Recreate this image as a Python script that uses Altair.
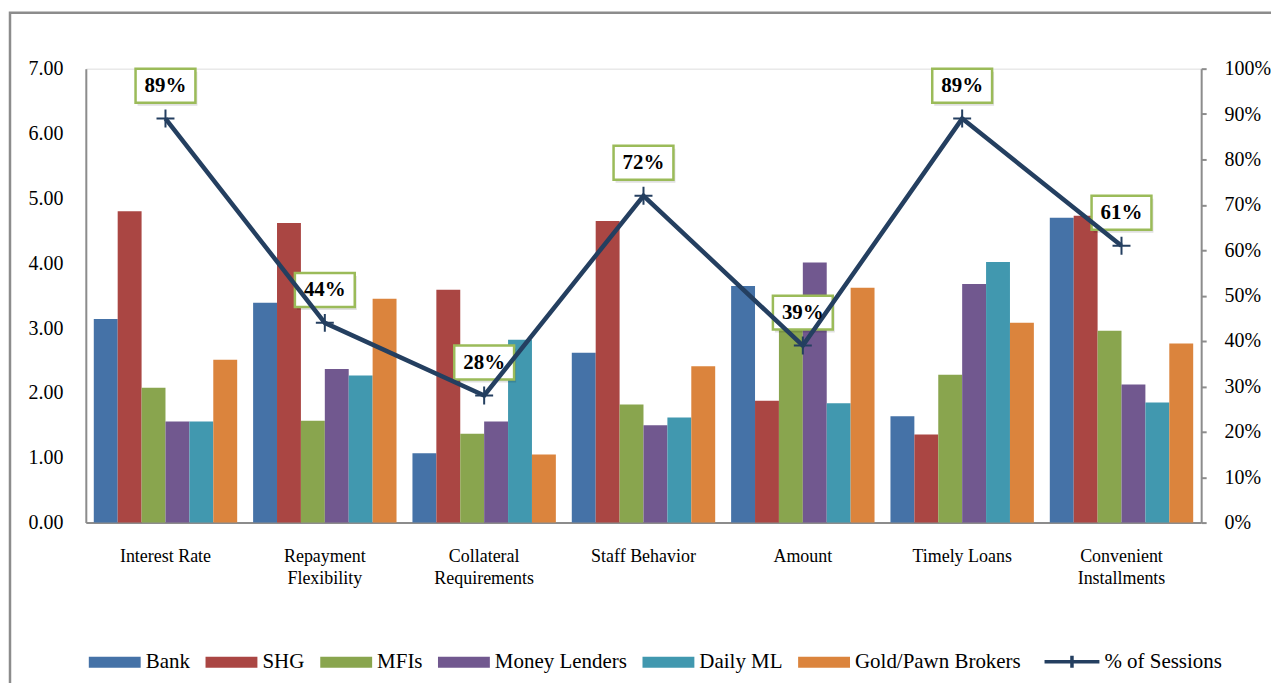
import altair as alt
import pandas as pd

# ---------------- data ----------------
categories = ["Interest Rate", "Repayment Flexibility", "Collateral Requirements",
              "Staff Behavior", "Amount", "Timely Loans", "Convenient Installments"]
tick_labels = [["Interest Rate"], ["Repayment", "Flexibility"], ["Collateral", "Requirements"],
               ["Staff Behavior"], ["Amount"], ["Timely Loans"], ["Convenient", "Installments"]]
series = ["Bank", "SHG", "MFIs", "Money Lenders", "Daily ML", "Gold/Pawn Brokers"]
bank = [3.14, 3.39, 1.07, 2.62, 3.65, 1.64, 4.70]
shg = [4.80, 4.62, 3.59, 4.65, 1.88, 1.36, 4.73]
mfis = [2.08, 1.57, 1.37, 1.82, 3.33, 2.28, 2.96]
money_lenders = [1.56, 2.37, 1.56, 1.50, 4.01, 3.68, 2.13]
daily_ml = [1.56, 2.27, 2.82, 1.62, 1.84, 4.02, 1.85]
gold_pawn = [2.51, 3.45, 1.05, 2.41, 3.62, 3.08, 2.76]
sessions = [0.89, 0.44, 0.28, 0.72, 0.39, 0.89, 0.61]
line_name = "% of Sessions"

colors = ["#4572A7", "#AA4643", "#89A54E", "#71588F", "#4198AF", "#DB843D"]
line_color = "#243F60"
FONT = "Liberation Serif"

values = [bank, shg, mfis, money_lenders, daily_ml, gold_pawn]
rows = []
for s, vals in zip(series, values):
    for c, v in zip(categories, vals):
        rows.append({"category": c, "series": s, "value": v})
df_bars = pd.DataFrame(rows)
df_line = pd.DataFrame({"category": categories, "pct": sessions, "name": [line_name] * len(categories)})

# multi-line tick label expression
parts = []
for c, lab in zip(categories, tick_labels):
    arr = "[" + ",".join("'" + t + "'" for t in lab) + "]"
    parts.append(f"datum.value == '{c}' ? {arr} : ")
label_expr = "".join(parts) + "datum.label"

W, H = 1118, 455

x_enc = alt.X("category:N", sort=categories,
              scale=alt.Scale(paddingInner=0.1, paddingOuter=0.05),
              axis=alt.Axis(title=None, labelAngle=0, ticks=False, domainColor="#8c8c8c",
                            domainWidth=2, labelFont=FONT, labelFontSize=18, labelColor="black",
                            labelPadding=25, labelBaseline="top", labelLineHeight=22,
                            labelExpr=label_expr, labelLimit=300))

bars = alt.Chart(df_bars).mark_bar().encode(
    x=x_enc,
    xOffset=alt.XOffset("series:N", sort=series, scale=alt.Scale(paddingInner=0, paddingOuter=0)),
    y=alt.Y("value:Q", scale=alt.Scale(domain=[0, 7], nice=False),
            axis=alt.Axis(title=None, values=[0, 1, 2, 3, 4, 5, 6, 7], format=".2f", grid=False,
                          ticks=False, domainColor="#8c8c8c", domainWidth=2, labelFont=FONT,
                          labelFontSize=20, labelColor="black", labelPadding=23, orient="left")),
    color=alt.Color("series:N", sort=series, scale=alt.Scale(domain=series, range=colors),
                    legend=alt.Legend(orient="none", legendX=3, legendY=569, direction="horizontal",
                                      title=None, symbolType="M-1,-0.21H1V0.21H-1Z", symbolSize=2704,
                                      symbolStrokeWidth=0, symbolOpacity=1, labelFont=FONT,
                                      labelFontSize=21, labelColor="black", labelOffset=5,
                                      columnPadding=15, padding=0, labelLimit=400)),
)

y_right = alt.Y("pct:Q", scale=alt.Scale(domain=[0, 1], nice=False),
                axis=alt.Axis(title=None, values=[i / 10 for i in range(11)], format=".0%", grid=False,
                              ticks=True, tickSize=5, tickColor="#8c8c8c", tickWidth=2,
                              domainColor="#8c8c8c", domainWidth=2, labelFont=FONT, labelFontSize=20,
                              labelColor="black", labelPadding=18, orient="right"))

base = alt.Chart(df_line).encode(x=alt.X("category:N", sort=categories), y=y_right)

shadows = base.mark_point(shape="M-1,-0.567H1V0.567H-1Z", size=3600, filled=True, fill="#000000",
                          opacity=0.12, strokeWidth=0, xOffset=2, yOffset=-30)
boxes = base.mark_point(shape="M-1,-0.567H1V0.567H-1Z", size=3600, filled=True, fill="white",
                        stroke="#9BBB59", strokeWidth=2.5, opacity=1, yOffset=-33)
line = base.mark_line(strokeWidth=4.5).encode(
    stroke=alt.Stroke("name:N", scale=alt.Scale(domain=[line_name], range=[line_color]),
                      legend=alt.Legend(orient="none", legendX=959, legendY=565, title=None,
                                        symbolType="M-1,0H1M0,-0.22V0.22", symbolSize=3025,
                                        symbolStrokeWidth=3.5, symbolFillColor="transparent",
                                        labelFont=FONT, labelFontSize=21, labelColor="black",
                                        labelOffset=3, padding=0, labelLimit=400)))
crosses = base.mark_point(shape="M-1,0H1M0,-1V1", size=324, filled=False, stroke=line_color,
                          strokeWidth=2, opacity=1)
texts = base.mark_text(font=FONT, fontSize=21, fontWeight="bold", color="black", dy=-33,
                       baseline="middle").encode(text=alt.Text("pct:Q", format=".0%"))

right = alt.layer(shadows, boxes, line, crosses, texts)

frame = alt.Chart(pd.DataFrame({"a": [0]})).mark_rect(fill=None, stroke="#8c8c8c", strokeWidth=2.5).encode(
    x=alt.value(-76), x2=alt.value(W + 200), y=alt.value(-56), y2=alt.value(H + 300))

chart = alt.layer(frame, bars, right).resolve_scale(y="independent", color="independent").properties(
    width=W, height=H,
    autosize=alt.AutoSizeParams(type="none"),
    padding={"left": 78, "top": 60, "right": 70, "bottom": 160},
).configure_view(stroke=None).configure(background="white", font=FONT).configure_legend(
    labelFont=FONT, labelFontSize=21, titleFont=FONT
).configure_text(font=FONT)

chart.save("out.html", embed_options={"renderer": "svg", "actions": False})
